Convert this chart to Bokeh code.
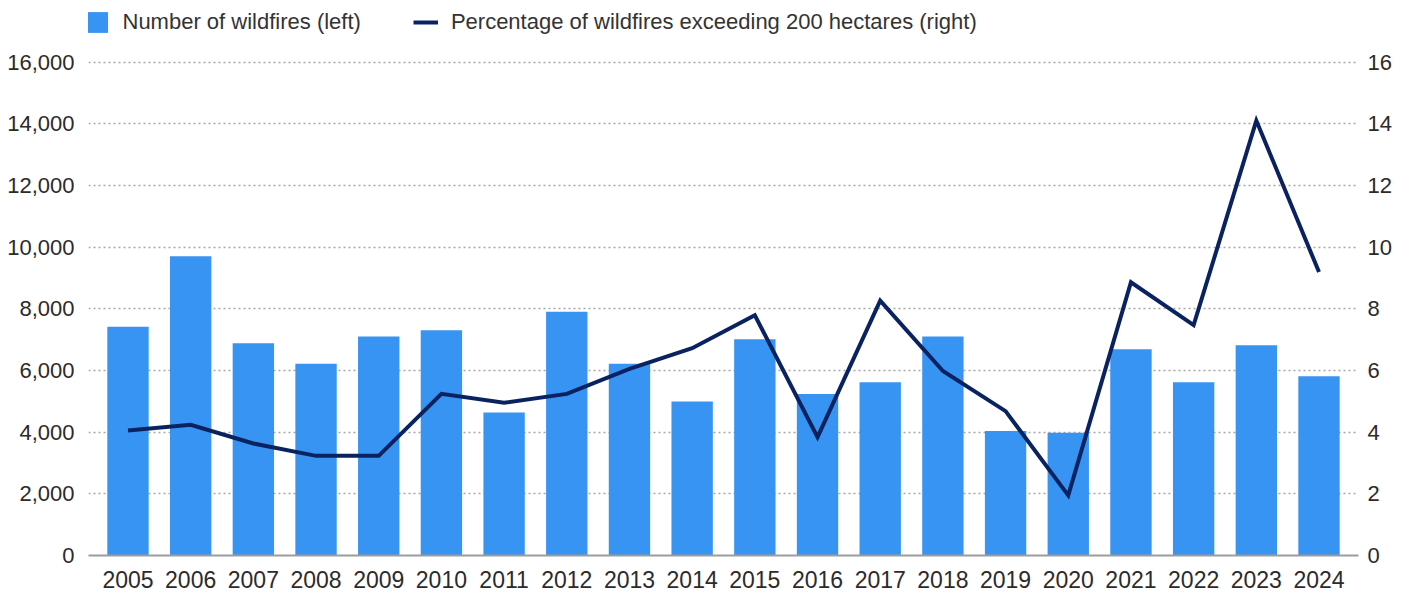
from bokeh.plotting import figure
from bokeh.models import (Range1d, LinearAxis, FixedTicker,
                          NumeralTickFormatter, Legend, LegendItem, ColumnDataSource)
from bokeh.embed import file_html
from bokeh.resources import INLINE

# ---- data ----
years = ["2005", "2006", "2007", "2008", "2009", "2010", "2011", "2012", "2013", "2014",
         "2015", "2016", "2017", "2018", "2019", "2020", "2021", "2022", "2023", "2024"]
wildfires = [7420, 9700, 6880, 6220, 7100, 7300, 4640, 7900, 6220, 4990,
             7010, 5240, 5620, 7100, 4040, 3980, 6690, 5620, 6820, 5810]
pct_over_200ha = [4.05, 4.24, 3.63, 3.23, 3.23, 5.24, 4.95, 5.24, 6.05, 6.72,
                  7.79, 3.84, 8.26, 5.98, 4.68, 1.95, 8.86, 7.47, 14.1, 9.19]
left_ticks = [0, 2000, 4000, 6000, 8000, 10000, 12000, 14000, 16000]
right_ticks = [0, 2, 4, 6, 8, 10, 12, 14, 16]
bar_label = "Number of wildfires (left)"
line_label = "Percentage of wildfires exceeding 200 hectares (right)"

FONT = "Liberation Sans"
TXT = "#2b2b2b"
BAR_COLOR = "#3894f3"
LINE_COLOR = "#0a2360"

# frame geometry
W, H = 1405, 596
MB_L, MB_R, MB_T, MB_B = 88, 47, 0, 41
frame_h = H - MB_T - MB_B
px_16000 = 493.5
YMAX = 16000 * frame_h / px_16000

xpos = list(range(len(years)))
src = ColumnDataSource(dict(x=xpos, year=years, fires=wildfires, pct=pct_over_200ha))

p = figure(
    x_range=Range1d(-0.63, len(years) - 1 + 0.63),
    y_range=Range1d(0, YMAX),
    width=W, height=H,
    output_backend="svg", toolbar_location=None,
    min_border_left=MB_L, min_border_right=MB_R,
    min_border_top=MB_T, min_border_bottom=MB_B,
)
p.outline_line_color = None
p.background_fill_color = "white"
p.border_fill_color = "white"
p.extra_y_ranges = {"pct": Range1d(0, YMAX / 1000)}

bars = p.vbar(x="x", top="fires", width=0.66, source=src,
              fill_color=BAR_COLOR, line_color=None)
line = p.line(x="x", y="pct", y_range_name="pct", source=src,
              line_color=LINE_COLOR, line_width=4, line_join="miter")

def style_axis(ax, size, standoff):
    ax.axis_line_color = None
    ax.major_tick_line_color = None
    ax.minor_tick_line_color = None
    ax.major_tick_out = 0
    ax.major_tick_in = 0
    ax.minor_tick_out = 0
    ax.minor_tick_in = 0
    ax.major_label_standoff = standoff
    ax.major_label_text_font = FONT
    ax.major_label_text_font_size = size
    ax.major_label_text_color = TXT

# x axis
xa = p.xaxis[0]
style_axis(xa, "23px", 15)
xa.ticker = FixedTicker(ticks=xpos)
xa.major_label_overrides = {i: y for i, y in zip(xpos, years)}
xa.axis_line_color = "#9c9c9c"
xa.axis_line_width = 2

# left axis
ya = p.yaxis[0]
style_axis(ya, "22px", 14)
ya.ticker = FixedTicker(ticks=left_ticks)
ya.formatter = NumeralTickFormatter(format="0,0")

# right axis
ra = LinearAxis(y_range_name="pct", ticker=FixedTicker(ticks=right_ticks))
style_axis(ra, "22px", 9)
p.add_layout(ra, "right")

# grid
p.xgrid.visible = False
p.ygrid.ticker = FixedTicker(ticks=left_ticks)
p.ygrid.grid_line_color = "#a6a6a6"
p.ygrid.grid_line_width = 1.3
p.ygrid.grid_line_dash = "2 3"

GLYPH_W, GLYPH_H = 25, 26
legend = Legend(
    items=[LegendItem(label=bar_label, renderers=[bars]),
           LegendItem(label=line_label, renderers=[line])],
    location=(-3.5, frame_h - 9 - GLYPH_H), orientation="horizontal",
    margin=0, padding=0, spacing=52,
    glyph_width=GLYPH_W, glyph_height=GLYPH_H, label_standoff=13,
    label_text_font=FONT, label_text_font_size="22px", label_text_color="#333333",
    border_line_color=None, background_fill_alpha=0,
)
p.add_layout(legend)

open("out.html", "w").write(file_html(p, INLINE))
